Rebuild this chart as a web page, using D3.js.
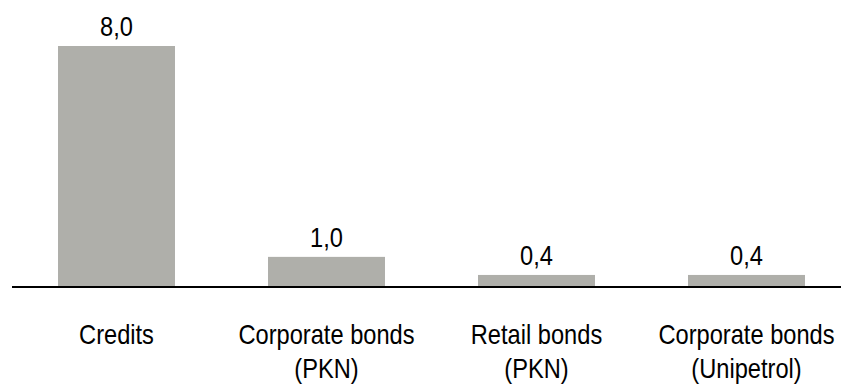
<!DOCTYPE html>
<html>
<head>
<meta charset="utf-8">
<script src="https://cdn.jsdelivr.net/npm/d3@7"></script>
<style>
  html, body { margin: 0; padding: 0; background: #fff; }
  svg { display: block; }
  text { font-family: "Liberation Sans", Arial, sans-serif; fill: #000; }
</style>
</head>
<body>
<svg id="chart" width="841" height="384"></svg>
<script>
const categories = [["Credits"], ["Corporate bonds", "(PKN)"], ["Retail bonds", "(PKN)"], ["Corporate bonds", "(Unipetrol)"]];
const values = [8.0, 1.0, 0.4, 0.4];
const valueLabels = ["8,0", "1,0", "0,4", "0,4"];

const W = 841, H = 384;
const baseY = 287;
const fontSize = 28.5;
const squeeze = 0.83;
const svg = d3.select("#chart");

const x = d3.scaleBand()
  .domain(d3.range(values.length))
  .range([11.5, 851.5])
  .paddingInner(0.443)
  .paddingOuter(0.2215);

const y = d3.scaleLinear().domain([0, 8]).range([baseY, 46]);

svg.selectAll("rect.bar").data(values).enter().append("rect")
  .attr("class", "bar")
  .attr("x", (d, i) => x(i))
  .attr("width", x.bandwidth())
  .attr("y", d => y(d))
  .attr("height", d => baseY - y(d))
  .attr("fill", "#afafaa");

svg.selectAll("g.val").data(values).enter().append("g")
  .attr("class", "val")
  .attr("transform", (d, i) => `translate(${x(i) + x.bandwidth() / 2},${y(d) - 10}) scale(${squeeze},1)`)
  .append("text")
  .attr("text-anchor", "middle")
  .style("font-size", fontSize + "px")
  .text((d, i) => valueLabels[i]);

// baseline axis
const axis = d3.axisBottom(x).tickSize(0).tickFormat("");
const gAxis = svg.append("g").attr("transform", `translate(0,${baseY})`).call(axis);
gAxis.select(".domain").attr("d", `M12,0H841`).attr("stroke", "#000").attr("stroke-width", 2.2);

const labels = svg.selectAll("g.cat").data(categories).enter().append("g")
  .attr("class", "cat")
  .attr("transform", (d, i) => `translate(${x(i) + x.bandwidth() / 2},0) scale(${squeeze},1)`)
  .append("text")
  .attr("text-anchor", "middle")
  .style("font-size", fontSize + "px");
labels.each(function(lines) {
  const t = d3.select(this);
  lines.forEach((ln, j) => {
    t.append("tspan")
      .attr("x", 0)
      .attr("y", 344 + j * 34)
      .text(ln);
  });
});
</script>
</body>
</html>
